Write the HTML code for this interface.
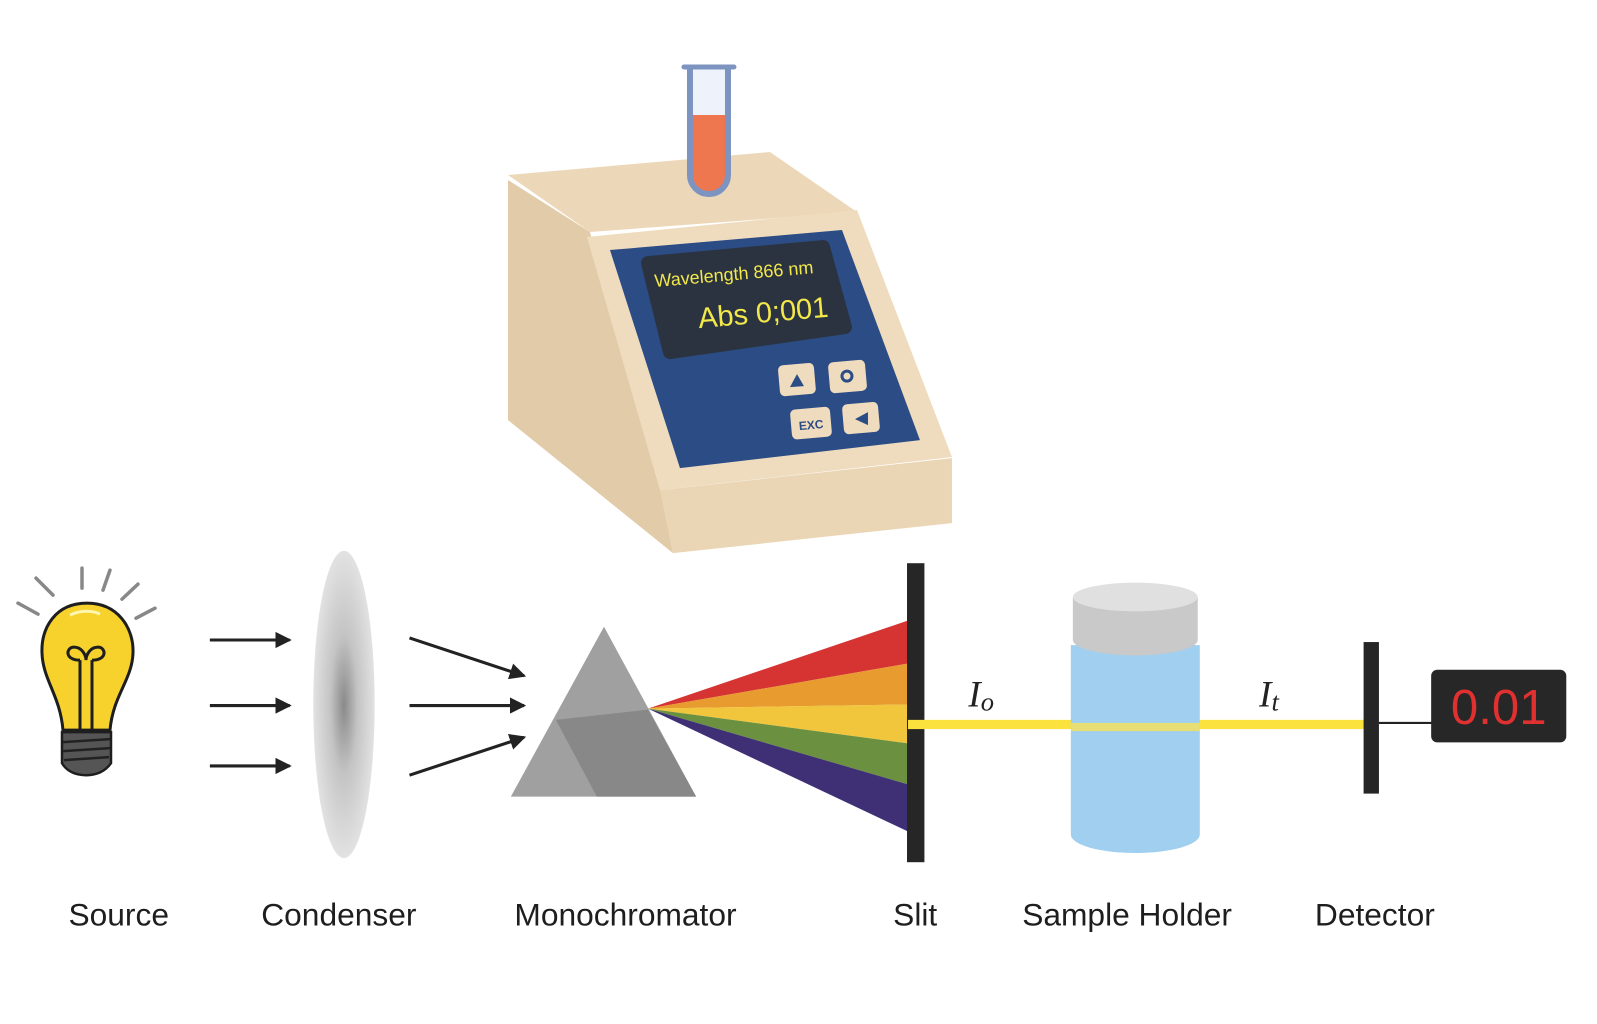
<!DOCTYPE html>
<html><head><meta charset="utf-8"><style>
html,body{margin:0;padding:0;background:#fff;}
svg{display:block;}
</style></head><body>
<svg width="1597" height="1024" viewBox="0 0 1560 1000" preserveAspectRatio="none" xmlns="http://www.w3.org/2000/svg">
<defs>
<radialGradient id="lens" cx="0.5" cy="0.5" r="0.5">
<stop offset="0" stop-color="#8a8a8a"/><stop offset="0.45" stop-color="#c4c4c4"/><stop offset="1" stop-color="#e2e2e2"/>
</radialGradient>
<marker id="ah" markerWidth="16" markerHeight="16" refX="14" refY="8" orient="auto" markerUnits="userSpaceOnUse">
<path d="M0,0 L16,8 L0,16 Z" fill="#222"/></marker>
</defs>
<rect width="1560" height="1000" fill="#fff"/>

<g transform="scale(0.9768)">
<polygon points="508,180 590,232 660,488 673,553 508,420" fill="#e2cba9"/>
<polygon points="508,175 770,152 857,212 590,232" fill="#ecd8b8"/>
<polygon points="587,237 857,210 952,457 660,490" fill="#efdcbe"/>
<polygon points="660,490 952,458 952,523 673,553" fill="#ead6b4"/>
<polygon points="610,250 842,230 920,440 680,468" fill="#2c4c85"/>
<polygon points="648,263 823,247 845,327 670,352" fill="#2b3340" stroke="#2b3340" stroke-width="14" stroke-linejoin="round"/>
<text x="655" y="287" transform="rotate(-5 655 287)" font-family="Liberation Sans, sans-serif" font-size="18" fill="#f2e84a">Wavelength 866 nm</text>
<text x="699" y="328" transform="rotate(-5 699 328)" font-family="Liberation Sans, sans-serif" font-size="29" fill="#f2e84a">Abs  0;001</text>
<g fill="#efdcbe">
<rect x="779" y="364" width="36" height="31" rx="5" transform="rotate(-5 797 380)"/>
<rect x="829" y="361" width="37" height="31" rx="5" transform="rotate(-5 847 376)"/>
<rect x="791" y="408" width="40" height="30" rx="5" transform="rotate(-5 811 423)"/>
<rect x="843" y="403" width="36" height="30" rx="5" transform="rotate(-5 861 418)"/>
</g>
<polygon points="790,387 804,386 797,374" fill="#2c4c85"/>
<circle cx="847" cy="376" r="5" fill="none" stroke="#2c4c85" stroke-width="3"/>
<text x="811" y="429" text-anchor="middle" transform="rotate(-5 811 423)" font-family="Liberation Sans, sans-serif" font-weight="bold" font-size="12" fill="#2c4c85">EXC</text>
<polygon points="855,419 868,412 868,425" fill="#2c4c85"/>
<path d="M690,68 L690,175 A19,19 0 0 0 728,175 L728,68 Z" fill="#eef3fb"/>
<path d="M690,115 L728,115 L728,175 A19,19 0 0 1 690,175 Z" fill="#ee7750"/>
<path d="M690,68 L690,175 A19,19 0 0 0 728,175 L728,68" fill="none" stroke="#7d93c0" stroke-width="6"/>
<line x1="684" y1="67" x2="734" y2="67" stroke="#7d93c0" stroke-width="5" stroke-linecap="round"/>

<g stroke="#888" stroke-width="3.5" stroke-linecap="round">
<line x1="18" y1="603" x2="38" y2="614"/><line x1="36" y1="578" x2="53" y2="595"/>
<line x1="82" y1="568" x2="82" y2="588"/><line x1="110" y1="570" x2="103" y2="590"/>
<line x1="138" y1="584" x2="122" y2="599"/><line x1="155" y1="608" x2="136" y2="618"/>
</g>
<path d="M87,603 C55,603 41,628 42,653 C43,680 60,695 63,730 L110,730 C113,695 132,680 133,653 C134,628 118,603 87,603 Z" fill="#f8d22c" stroke="#1e1e1e" stroke-width="3"/>
<path d="M70,615 C80,610 92,610 100,614" stroke="#fff6b0" stroke-width="3" fill="none"/>
<path d="M80,730 L80,660 M92,730 L92,660" stroke="#1e1e1e" stroke-width="3" fill="none"/>
<path d="M80,660 C64,660 66,647 74,647 C82,647 86,655 86,660 C86,655 90,647 98,647 C106,647 108,660 92,660" stroke="#1e1e1e" stroke-width="3" fill="none"/>
<path d="M62,732 L111,732 L111,763 C106,770 98,775 86,775 C74,775 66,770 62,763 Z" fill="#555" stroke="#1e1e1e" stroke-width="2.5"/>
<g stroke="#222" stroke-width="2.5"><line x1="63" y1="742" x2="110" y2="739"/><line x1="63" y1="751" x2="110" y2="748"/><line x1="64" y1="760" x2="109" y2="757"/></g>
</g>

<g stroke="#222" stroke-width="3" marker-end="url(#ah)">
<line x1="205" y1="625" x2="283" y2="625"/><line x1="205" y1="689" x2="283" y2="689"/><line x1="205" y1="748" x2="283" y2="748"/>
<line x1="400" y1="623" x2="512" y2="660"/><line x1="400" y1="689" x2="512" y2="689"/><line x1="400" y1="757" x2="512" y2="720"/>
</g>
<ellipse cx="336" cy="688" rx="30" ry="150" fill="url(#lens)"/>

<polygon points="590,612 499,778 680,778" fill="#a0a0a0"/>
<polygon points="543,703 633,693 680,778 583,778" fill="#888"/>

<polygon points="633,692 887,606 887,648" fill="#d63333"/>
<polygon points="633,692 887,648 887,688" fill="#e89b2e"/>
<polygon points="633,692 887,688 887,726" fill="#f1c63c"/>
<polygon points="633,692 887,726 887,766" fill="#6a9040"/>
<polygon points="633,692 887,766 887,812" fill="#3f3076"/>

<rect x="886" y="550" width="17" height="292" fill="#262626"/>
<rect x="887" y="703" width="447" height="9" fill="#fbe23c"/>
<text x="946" y="690" font-family="Liberation Serif, serif" font-style="italic" font-size="36" fill="#222">I<tspan font-size="26" dy="4">o</tspan></text>
<text x="1230" y="690" font-family="Liberation Serif, serif" font-style="italic" font-size="36" fill="#222">I<tspan font-size="26" dy="4">t</tspan></text>

<path d="M1046,630 L1046,815 A63,18 0 0 0 1172,815 L1172,630 Z" fill="#a0cff0"/>
<rect x="1046" y="706" width="126" height="8" fill="#f5e060" opacity="0.85"/>
<path d="M1048,583 L1048,625 A61,15 0 0 0 1170,625 L1170,583 Z" fill="#c9c9c9"/>
<ellipse cx="1109" cy="583" rx="61" ry="14" fill="#e0e0e0"/>

<rect x="1332" y="627" width="15" height="148" fill="#262626"/>
<line x1="1347" y1="706" x2="1400" y2="706" stroke="#222" stroke-width="2"/>
<rect x="1398" y="654" width="132" height="71" rx="6" fill="#272727"/>
<text x="1464" y="707" text-anchor="middle" font-family="Liberation Sans, sans-serif" font-size="48" fill="#e03030">0.01</text>

<g font-family="Liberation Sans, DejaVu Sans, sans-serif" font-size="31" fill="#1e1e1e" text-anchor="middle">
<text x="116" y="904">Source</text>
<text x="331" y="904">Condenser</text>
<text x="611" y="904">Monochromator</text>
<text x="894" y="904">Slit</text>
<text x="1101" y="904">Sample Holder</text>
<text x="1343" y="904">Detector</text>
</g>
</svg>
</body></html>
